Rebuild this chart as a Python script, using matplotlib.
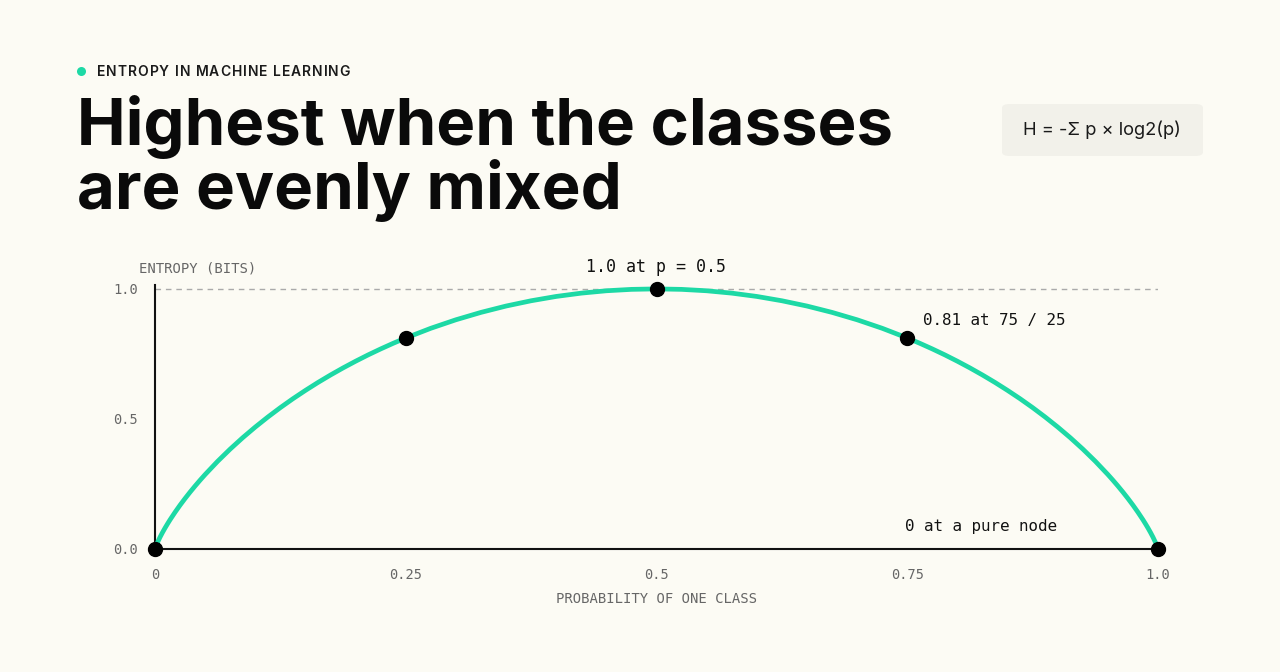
import matplotlib
matplotlib.use("Agg")
import matplotlib.pyplot as plt
from matplotlib.patches import FancyBboxPatch
from matplotlib.lines import Line2D
from matplotlib.font_manager import findfont, FontProperties
from matplotlib.ft2font import FT2Font

# ---- data ----
p_vals = [0.0, 0.001, 0.0025, 0.005, 0.0075, 0.01, 0.0125, 0.015, 0.02, 0.025, 0.03,
          0.035, 0.04, 0.045, 0.05, 0.0625, 0.075, 0.0875, 0.1, 0.1125, 0.125, 0.1375,
          0.15, 0.1625, 0.175, 0.1875, 0.2, 0.2125, 0.225, 0.2375, 0.25, 0.275, 0.3,
          0.325, 0.35, 0.375, 0.4, 0.425, 0.45, 0.475, 0.5,
          0.525, 0.55, 0.575, 0.6, 0.625, 0.65, 0.675, 0.7, 0.725, 0.75, 0.7625,
          0.775, 0.7875, 0.8, 0.8125, 0.825, 0.8375, 0.85, 0.8625, 0.875, 0.8875,
          0.9, 0.9125, 0.925, 0.9375, 0.95, 0.955, 0.96, 0.965, 0.97, 0.975, 0.98,
          0.985, 0.9875, 0.99, 0.9925, 0.995, 0.9975, 0.999, 1.0]
h_vals = [0.0, 0.0114, 0.0252, 0.0454, 0.0637, 0.0808, 0.0969, 0.1124, 0.1414, 0.1687, 0.1944,
          0.2189, 0.2423, 0.2648, 0.2864, 0.3373, 0.3843, 0.4281, 0.4690, 0.5074, 0.5436, 0.5777,
          0.6098, 0.6403, 0.6690, 0.6962, 0.7219, 0.7463, 0.7692, 0.7909, 0.8113, 0.8486, 0.8813,
          0.9097, 0.9341, 0.9544, 0.9710, 0.9837, 0.9928, 0.9982, 1.0,
          0.9982, 0.9928, 0.9837, 0.9710, 0.9544, 0.9341, 0.9097, 0.8813, 0.8486, 0.8113, 0.7909,
          0.7692, 0.7463, 0.7219, 0.6962, 0.6690, 0.6403, 0.6098, 0.5777, 0.5436, 0.5074,
          0.4690, 0.4281, 0.3843, 0.3373, 0.2864, 0.2648, 0.2423, 0.2189, 0.1944, 0.1687, 0.1414,
          0.1124, 0.0969, 0.0808, 0.0637, 0.0454, 0.0252, 0.0114, 0.0]
marker_p = [0.0, 0.25, 0.5, 0.75, 1.0]
marker_h = [0.0, 0.811, 1.0, 0.811, 0.0]
x_ticks = [0, 0.25, 0.5, 0.75, 1.0]
x_tick_labels = ["0", "0.25", "0.5", "0.75", "1.0"]
y_ticks = [0.0, 0.5, 1.0]
y_tick_labels = ["0.0", "0.5", "1.0"]

kicker = "ENTROPY IN MACHINE LEARNING"
title_lines = ["Highest when the classes", "are evenly mixed"]
formula = "H = -Σ p × log2(p)"
x_label = "PROBABILITY OF ONE CLASS"
y_label = "ENTROPY (BITS)"
ann_peak = "1.0 at p = 0.5"
ann_75 = "0.81 at 75 / 25"
ann_pure = "0 at a pure node"

# ---- style ----
BG = "#FCFBF4"
TEAL = "#1DD9A5"
GRAY = "#666666"
MONO = ["DejaVu Sans Mono"]
SANS = ["Inter", "DejaVu Sans"]

W, H = 1280, 672
DPI = 100
fig = plt.figure(figsize=(W / DPI, H / DPI), dpi=DPI, facecolor=BG)


def fx(px):
    return px / W


def fy(py):
    return 1 - py / H


def spaced_text(x_px, y_px, text, size, tracking_px, family, weight, color):
    """Draw text char by char with extra letter spacing (pixels), on a common baseline."""
    fpath = findfont(FontProperties(family=family, weight=weight))
    ft = FT2Font(fpath)
    ft.set_size(size, DPI)
    x = x_px
    for ch in text:
        g = ft.load_char(ord(ch))
        if ch != " ":
            fig.text(fx(x + g.horiBearingX / 64.0), fy(y_px), ch, family=family,
                     fontsize=size, fontweight=weight, color=color,
                     ha="left", va="baseline")
        x += g.linearHoriAdvance / 65536.0 + tracking_px


# header
fig.add_artist(Line2D([fx(81)], [fy(70.5)], marker="o", ms=6.5, color=TEAL,
                      markeredgewidth=0, transform=fig.transFigure))
spaced_text(96, 75.5, kicker, 10, 0.95, "Inter", "semibold", "#1A1A1A")
fig.text(fx(77), fy(145), title_lines[0], family=SANS, fontsize=47, fontweight="bold",
         color="#0A0A0A", va="baseline", ha="left")
fig.text(fx(77), fy(209), title_lines[1], family=SANS, fontsize=47, fontweight="bold",
         color="#0A0A0A", va="baseline", ha="left")

# formula box
box = FancyBboxPatch((fx(1002), fy(156)), fx(1203) - fx(1002), fy(104) - fy(156),
                     boxstyle="round,pad=0,rounding_size=0.006",
                     transform=fig.transFigure, facecolor="#F2F1EA", edgecolor="none")
fig.patches.append(box)
fig.text(fx(1102), fy(130), formula, family=SANS, fontsize=13.2, color="#1A1A1A",
         ha="center", va="center")

# axes
ax_left, ax_right = 155, 1158
ax_bottom, ax_top = 549, 285
ax = fig.add_axes([fx(ax_left), fy(ax_bottom), (ax_right - ax_left) / W,
                   (ax_bottom - ax_top) / H])
ax.set_facecolor("none")
ax.set_xlim(0, 1)
ax.set_ylim(0, 1.015)
for s in ["top", "right"]:
    ax.spines[s].set_visible(False)
for s in ["left", "bottom"]:
    ax.spines[s].set_color("#111111")
    ax.spines[s].set_linewidth(1.5)

ax.axhline(1.0, color="#AAAAAA", lw=1.0, ls=(0, (4, 3.5)), zorder=1)
ax.plot(p_vals, h_vals, color=TEAL, lw=3.4, solid_capstyle="round",
        solid_joinstyle="round", zorder=3, clip_on=False)
ax.plot(marker_p, marker_h, "o", color="#000000", ms=10, zorder=4, clip_on=False)

ax.set_xticks(x_ticks)
ax.set_xticklabels(x_tick_labels, family=MONO, fontsize=9.8, color=GRAY)
ax.set_yticks(y_ticks)
ax.set_yticklabels(y_tick_labels, family=MONO, fontsize=9.8, color=GRAY)
ax.tick_params(axis="both", length=0)
ax.tick_params(axis="x", pad=13.5)
ax.tick_params(axis="y", pad=12)

fig.text(fx(657), fy(599), x_label, family=MONO, fontsize=10, color=GRAY,
         ha="center", va="center")
fig.text(fx(139), fy(268), y_label, family=MONO, fontsize=10, color=GRAY,
         ha="left", va="center")

ax.annotate(ann_peak, xy=(0.5, 1.0), xytext=(0, 16), textcoords="offset points",
            family=MONO, fontsize=12, color="#111111", ha="center", va="center")
fig.text(fx(923), fy(321), ann_75, family=MONO, fontsize=11.4,
         color="#111111", ha="left", va="center")
fig.text(fx(905), fy(526), ann_pure, family=MONO, fontsize=11.4,
         color="#111111", ha="left", va="center")

fig.savefig("out.png", dpi=DPI, facecolor=BG)
